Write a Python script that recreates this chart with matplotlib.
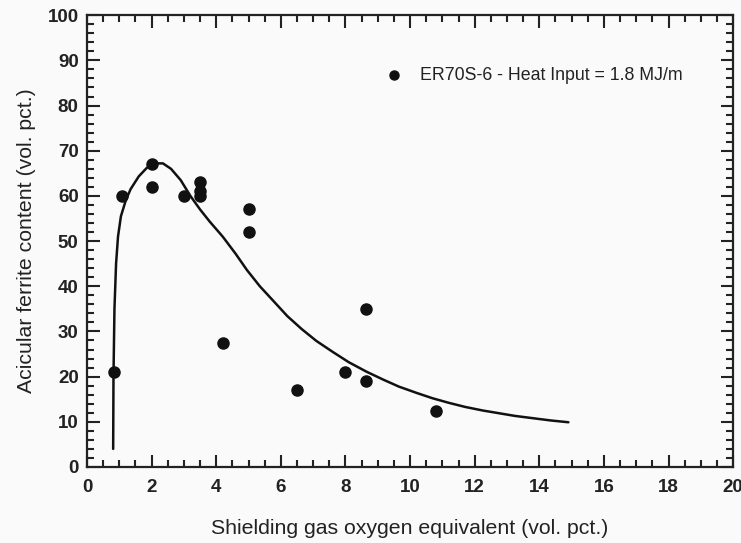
import matplotlib
matplotlib.use("Agg")
import matplotlib.pyplot as plt
from matplotlib.ticker import MultipleLocator

plt.rcParams['font.family'] = ['Liberation Sans', 'DejaVu Sans']

# Measured acicular ferrite content vs. shielding gas oxygen equivalent
oxygen_eq = [0.85, 1.07, 2.0, 2.0, 3.0, 3.5, 3.5, 3.5, 4.2, 5.0, 5.0,
             6.5, 8.0, 8.65, 8.65, 10.8]
ferrite = [21, 60, 67, 62, 60, 63, 61, 60, 27.5, 57, 52,
           17, 21, 35, 19, 12.3]

# Fitted trend curve
fit_x = [0.81, 0.82, 0.85, 0.90, 0.96, 1.05, 1.20, 1.35, 1.60, 1.85,
         2.10, 2.35, 2.60, 2.90, 3.20, 3.50, 3.80, 4.20, 4.60, 4.95,
         5.35, 5.75, 6.20, 6.65, 7.10, 7.60, 8.10, 8.65, 9.15, 9.65,
         10.20, 10.70, 11.20, 11.70, 12.25, 12.75, 13.25, 13.80, 14.35, 14.90]
fit_y = [4.0, 20.0, 35.0, 45.0, 51.0, 55.5, 59.0, 61.5, 64.3, 66.2,
         67.2, 67.2, 66.0, 63.5, 60.0, 57.0, 54.3, 51.0, 47.2, 43.6,
         40.0, 36.9, 33.4, 30.5, 27.9, 25.5, 23.2, 21.1, 19.4, 17.8,
         16.4, 15.2, 14.2, 13.3, 12.5, 11.9, 11.3, 10.8, 10.3, 9.9]

series_label = "ER70S-6 - Heat Input = 1.8 MJ/m"
x_label = "Shielding gas oxygen equivalent (vol. pct.)"
y_label = "Acicular ferrite content (vol. pct.)"

bg = '#fafafa'
fig = plt.figure(figsize=(7.41, 5.43), dpi=100, facecolor=bg)
ax = fig.add_axes([0.1174, 0.140, 0.872, 0.832], facecolor=bg)

ax.plot(fit_x, fit_y, color='#111111', lw=1.8, solid_capstyle='round',
        solid_joinstyle='round')
ax.plot(oxygen_eq, ferrite, 'o', color='#111111', ms=8, mec='#111111')

# legend entry drawn as a marker with text
ax.plot([9.5], [86.7], 'o', color='#111111', ms=6.5)
ax.text(10.3, 86.7, series_label, fontsize=12.8, va='center', ha='left',
        color='#222222')

ax.set_xlim(0, 20)
ax.set_ylim(0, 100)
ax.xaxis.set_major_locator(MultipleLocator(2))
ax.xaxis.set_minor_locator(MultipleLocator(0.5))
ax.yaxis.set_major_locator(MultipleLocator(10))
ax.yaxis.set_minor_locator(MultipleLocator(2))

ax.tick_params(which='both', direction='in', top=True, right=True,
               width=1.5, color='#222222')
ax.tick_params(which='major', length=9, labelsize=13.5,
               labelcolor='#222222')
ax.tick_params(axis='x', which='major', pad=9)
ax.tick_params(axis='y', which='major', pad=6)
ax.tick_params(which='minor', length=5)
for lab in ax.get_xticklabels() + ax.get_yticklabels():
    lab.set_fontweight('bold')

for sp in ax.spines.values():
    sp.set_linewidth(1.6)
    sp.set_color('#222222')

ax.set_xlabel(x_label, fontsize=15.3, color='#222222', labelpad=16)
ax.set_ylabel(y_label, fontsize=15.3, color='#222222', labelpad=8)

fig.savefig('out.png', dpi=100, facecolor=bg)
